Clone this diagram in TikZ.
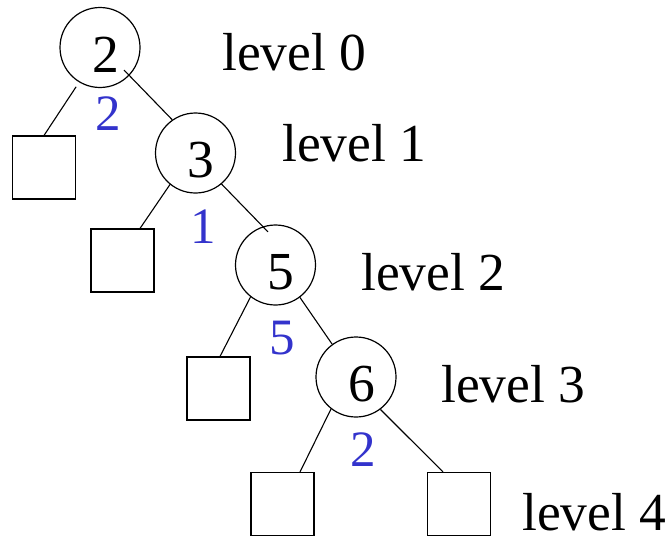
\documentclass[tikz,border=0pt]{standalone}
\usepackage{fontspec}
\setmainfont{Liberation Serif}
\definecolor{wblue}{RGB}{51,51,204}
\tikzset{
 keynode/.style={circle,draw,line width=1.2pt,minimum size=80pt,inner sep=0pt},
 leaf/.style={rectangle,draw,line width=1.1pt,minimum size=63pt,inner sep=0pt},
 keytext/.style={anchor=base,inner sep=0pt,font=\fontsize{53.5}{60}\selectfont},
 weight/.style={anchor=base,inner sep=0pt,text=wblue,font=\fontsize{51}{60}\selectfont},
 lvl/.style={anchor=base west,inner sep=0pt,font=\fontsize{53.5}{60}\selectfont},
 edge/.style={line width=1.1pt},
}
\begin{document}
\begin{tikzpicture}[x=1pt,y=-1pt]
\useasboundingbox (0,0) rectangle (671,538);
% internal nodes
\node[keynode] (n2) at (100,47.5) {};
\node[keynode] (n3) at (195.5,153) {};
\node[keynode] (n5) at (275.5,265) {};
\node[keynode] (n6) at (356,377) {};
% keys
\node[keytext] (k2) at ([shift={(5.5pt,-24.5pt)}]n2.center) {2};
\node[keytext] (k3) at ([shift={(5.5pt,-24.5pt)}]n3.center) {3};
\node[keytext] (k5) at ([shift={(5.5pt,-24.5pt)}]n5.center) {5};
\node[keytext] (k6) at ([shift={(5.5pt,-24.5pt)}]n6.center) {6};
% leaves
\node[leaf] (l1) at (44,167.5) {};
\node[leaf] (l2) at (122.5,260.5) {};
\node[leaf] (l3) at (218.5,388.5) {};
\node[leaf] (l4) at (282.5,504) {};
\node[leaf] (l5) at (459,504) {};
% edges
\draw[edge] ([shift={(238.7:46pt)}]n2.center) -- (l1.north);
\draw[edge] ([shift={(316.8:33pt)}]n2.center) -- (n3.125.5);
\draw[edge] (n3.231) -- ([xshift=17.5pt]l2.north);
\draw[edge] (n3.310.5) -- ([shift={(102.8:34pt)}]n5.center);
\draw[edge] (n5.232.6) -- ([xshift=1.5pt]l3.north);
\draw[edge] (n5.307.4) -- (n6.126);
\draw[edge] (n6.232.9) -- ([xshift=17.5pt]l4.north);
\draw[edge] (n6.307) -- ([xshift=-16pt]l5.north);
% weights
\node[weight] (w2) at (108.5,130) {2};
\node[weight] (w3) at (203,243) {1};
\node[weight] (w5) at (282.5,354) {5};
\node[weight] (w6) at (363.5,466) {2};
% levels
\node[lvl] (lv0) at (222,70) {level 0};
\node[lvl] (lv1) at (282,161) {level 1};
\node[lvl] (lv2) at (361,290) {level 2};
\node[lvl] (lv3) at (441,402) {level 3};
\node[lvl] (lv4) at (522,530) {level 4};
\end{tikzpicture}
\end{document}
